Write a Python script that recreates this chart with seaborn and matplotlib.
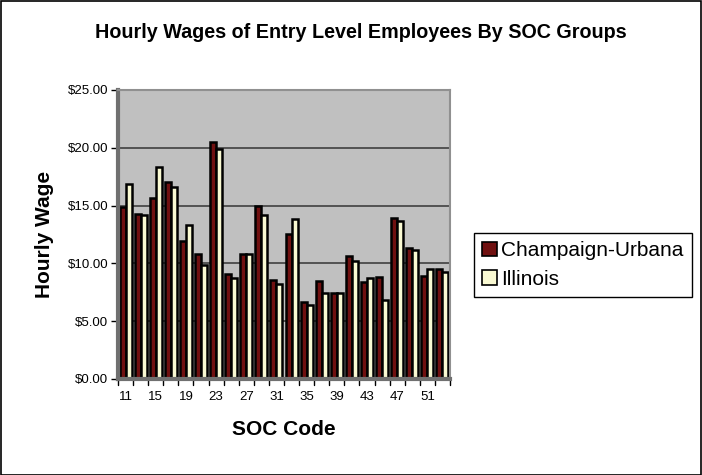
import matplotlib
matplotlib.use("Agg")
import matplotlib.pyplot as plt
import seaborn as sns
import pandas as pd
from matplotlib.patches import Rectangle

soc_codes = ["11", "13", "15", "17", "19", "21", "23", "25", "27", "29", "31",
             "33", "35", "37", "39", "41", "43", "45", "47", "49", "51", "53"]
champaign_urbana = [14.9, 14.3, 15.7, 17.0, 11.95, 10.8, 20.5, 9.05, 10.8, 14.95, 8.6,
                    12.5, 6.7, 8.5, 7.4, 10.6, 8.4, 8.8, 13.9, 11.3, 8.9, 9.55]
illinois = [16.9, 14.2, 18.3, 16.6, 13.35, 9.9, 19.9, 8.7, 10.8, 14.2, 8.2,
            13.8, 6.4, 7.45, 7.4, 10.2, 8.7, 6.8, 13.7, 11.2, 9.5, 9.25]
series_names = ["Champaign-Urbana", "Illinois"]
y_ticks = [0, 5, 10, 15, 20, 25]

df = pd.DataFrame({
    "SOC": soc_codes * 2,
    "Wage": champaign_urbana + illinois,
    "Area": [series_names[0]] * len(soc_codes) + [series_names[1]] * len(soc_codes),
})

sns.set_style("white")
plt.rcParams["font.family"] = ["Liberation Sans", "DejaVu Sans"]
plt.rcParams["text.color"] = "black"
plt.rcParams["axes.labelcolor"] = "black"
plt.rcParams["xtick.color"] = "black"
plt.rcParams["ytick.color"] = "black"

fig = plt.figure(figsize=(7.02, 4.75), dpi=100)
fig.patches.append(Rectangle((0.001, 0.001), 0.997, 0.996, transform=fig.transFigure,
                             fill=False, edgecolor="black", linewidth=1.2))

ax = fig.add_axes([118 / 702, 96 / 475, 332 / 702, 289 / 475])
ax.set_facecolor("#C0C0C0")

sns.barplot(data=df, x="SOC", y="Wage", hue="Area", order=soc_codes,
            hue_order=series_names, palette=["#800000", "#FFFFCC"],
            edgecolor="black", linewidth=1.8, width=0.8, ax=ax, legend=True)

ax.set_ylim(0, 25)
ax.set_xlim(-0.5, len(soc_codes) - 0.5)
ax.set_yticks(y_ticks)
ax.set_yticklabels([f"${v:.2f}" for v in y_ticks], fontsize=9.5)
ax.yaxis.grid(True, color="#404040", linewidth=1.2)
ax.set_axisbelow(True)

ax.set_xticks(range(len(soc_codes)))
ax.set_xticklabels([c if i % 2 == 0 else "" for i, c in enumerate(soc_codes)], fontsize=9.5)
ax.tick_params(axis="x", length=0, pad=9)
ax.tick_params(axis="y", length=5, width=1, color="black", pad=2, left=True)
for i in range(len(soc_codes) + 1):
    ax.plot([i - 0.5, i - 0.5], [0, -0.5], color="black", lw=1, clip_on=False)

for s in ["top", "right"]:
    ax.spines[s].set_color("#909090")
    ax.spines[s].set_linewidth(1.5)
ax.spines["left"].set_color("#707070")
ax.spines["left"].set_linewidth(3)
ax.spines["bottom"].set_color("#707070")
ax.spines["bottom"].set_linewidth(3)

ax.set_xlabel("SOC Code", fontsize=15, fontweight="bold", labelpad=12)
ax.set_ylabel("Hourly Wage", fontsize=15, fontweight="bold", labelpad=10)

fig.text(361 / 702, 1 - 32 / 475, "Hourly Wages of Entry Level Employees By SOC Groups",
         ha="center", va="center", fontsize=14.2, fontweight="bold")

handles, labels = ax.get_legend_handles_labels()
ax.get_legend().remove()
leg = fig.legend(handles, labels, loc="upper left", bbox_to_anchor=(474 / 702, 1 - 233 / 475),
                 bbox_transform=fig.transFigure, fontsize=15, frameon=True, fancybox=False,
                 framealpha=1, edgecolor="black", handlelength=0.7, handleheight=0.7,
                 handletextpad=0.2, borderpad=0.4, labelspacing=0.45, borderaxespad=0)
leg.get_frame().set_linewidth(1)
for h in leg.legend_handles:
    h.set_linewidth(1.2)

fig.savefig("out.png", dpi=100)
